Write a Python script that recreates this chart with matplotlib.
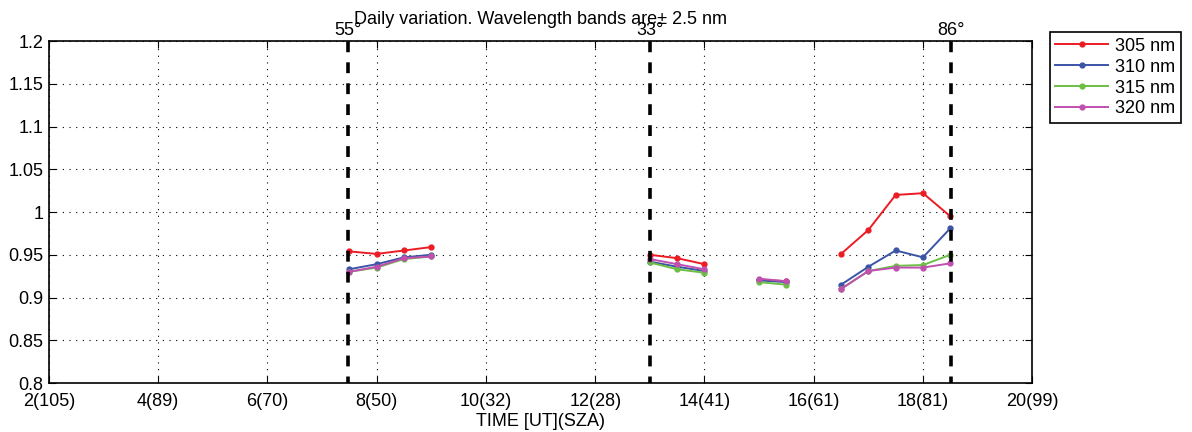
import numpy as np
import matplotlib.pyplot as plt

plt.rcParams['font.family'] = ['Liberation Sans', 'DejaVu Sans']

# measurement times (UT), grouped into separate runs
t_groups = [
    [7.49, 8.0, 8.5, 9.0],
    [13.0, 13.5, 14.0],
    [15.0, 15.5],
    [16.5, 17.0, 17.5, 18.0, 18.5],
]

r305 = [[0.954, 0.951, 0.955, 0.959],
        [0.950, 0.946, 0.939],
        [0.921, 0.919],
        [0.951, 0.979, 1.020, 1.022, 0.995]]
r310 = [[0.933, 0.939, 0.947, 0.950],
        [0.942, 0.936, 0.931],
        [0.920, 0.918],
        [0.915, 0.936, 0.955, 0.947, 0.981]]
r315 = [[0.930, 0.935, 0.945, 0.948],
        [0.941, 0.933, 0.929],
        [0.918, 0.915],
        [0.910, 0.931, 0.937, 0.938, 0.950]]
r320 = [[0.930, 0.936, 0.946, 0.948],
        [0.945, 0.939, 0.933],
        [0.922, 0.919],
        [0.910, 0.931, 0.935, 0.935, 0.940]]

series = [('305 nm', r305, '#ec1c24'),
          ('310 nm', r310, '#3b54a5'),
          ('315 nm', r315, '#6cbe45'),
          ('320 nm', r320, '#c04fb0')]

xticks = [2, 4, 6, 8, 10, 12, 14, 16, 18, 20]
xticklabels = ['2(105)', '4(89)', '6(70)', '8(50)', '10(32)', '12(28)',
               '14(41)', '16(61)', '18(81)', '20(99)']

sza_times = [7.48, 13.0, 18.52]
sza_labels = ['55°', '33°', '86°']

fs = 13

fig = plt.figure(figsize=(11.92, 4.32), dpi=100)
ax = fig.add_axes([0.041, 0.1134, 0.825, 0.7916])

for name, vals, col in series:
    for i, (t, v) in enumerate(zip(t_groups, vals)):
        ax.plot(t, v, '-o', color=col, lw=1.4, ms=3.5,
                label=name if i == 0 else None)

for t, lab in zip(sza_times, sza_labels):
    ax.axvline(t, color='black', lw=2.6, ls=(1.2, (3.0, 2.8)), zorder=5)
    ax.annotate(lab, (t, 1.2), xytext=(0, 4), textcoords='offset points',
                ha='center', va='baseline', fontsize=fs)

ax.set_xlim(2, 20)
ax.set_ylim(0.8, 1.2)
ax.set_xticks(xticks)
ax.set_xticklabels(xticklabels)
ax.set_yticks(np.arange(0.8, 1.2001, 0.05))
ax.set_yticklabels(['0.8', '0.85', '0.9', '0.95', '1', '1.05', '1.1', '1.15', '1.2'])
ax.grid(True, color='black', ls=(0, (1, 5)), lw=0.8)
ax.tick_params(direction='in', top=True, right=True, labelsize=fs, length=5)
ax.tick_params(axis='x', pad=7)
ax.tick_params(axis='y', pad=4)
for s in ax.spines.values():
    s.set_linewidth(1.2)

ax.set_xlabel('TIME [UT](SZA)', fontsize=fs, labelpad=2)
ax.set_title('Daily variation. Wavelength bands are± 2.5 nm', fontsize=fs, pad=12)

leg = ax.legend(loc='upper left', bbox_to_anchor=(1.018, 1.026), fontsize=fs,
                fancybox=False, edgecolor='black', framealpha=1,
                handlelength=2.9, handletextpad=0.4, borderpad=0.3,
                labelspacing=0.22, borderaxespad=0)
leg.get_frame().set_linewidth(1.2)

fig.savefig('out.png', dpi=100)
